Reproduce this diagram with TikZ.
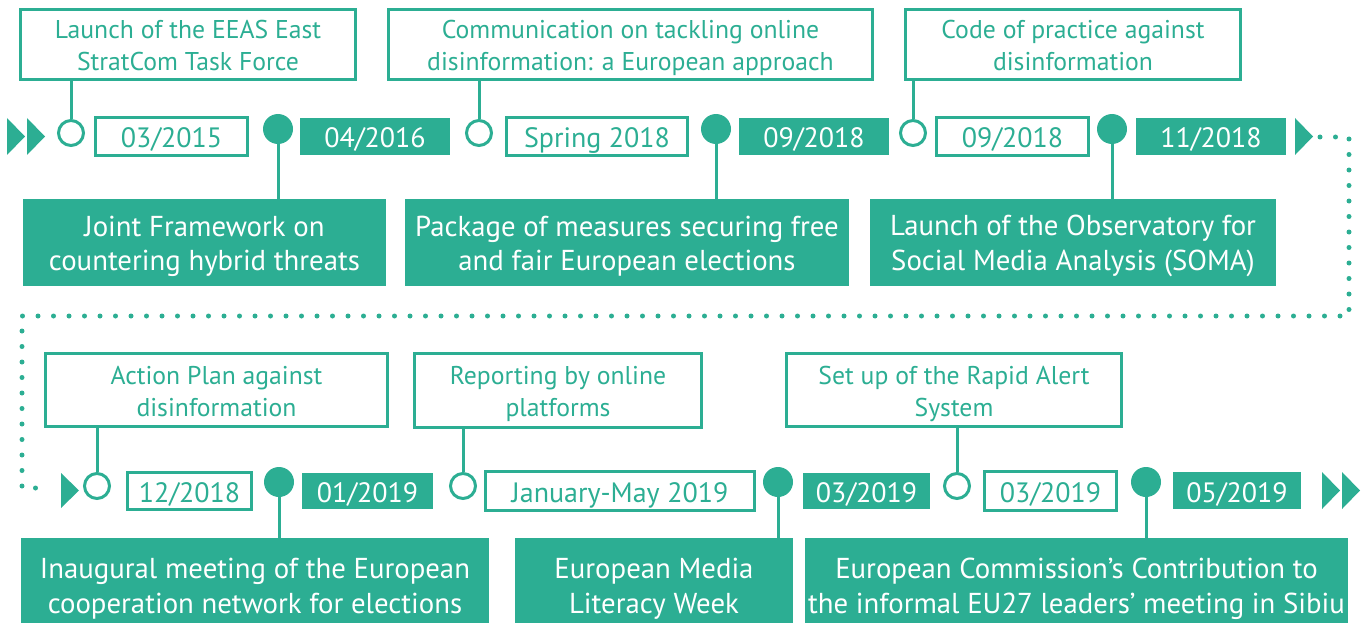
\documentclass[tikz,border=0pt]{standalone}
\usepackage{fontspec}
\setmainfont{PT Sans}
\definecolor{eu}{RGB}{44,174,147}
\newcommand\ftop{\fontsize{25.7}{32}\selectfont}
\newcommand\fdate{\fontsize{28}{32}\selectfont}
\newcommand\fbot{\fontsize{28.8}{34.7}\selectfont}
% struts: fix the height and depth of every text line
\newcommand\ts{\rule[-5pt]{0pt}{31pt}}
\newcommand\bs{\rule[-6.3pt]{0pt}{34.3pt}}
\begin{document}
\begin{tikzpicture}[x=1pt,y=-1pt,
  tbox/.style={draw=eu,line width=3pt,text=eu,align=center,inner sep=0pt,font=\ftop},
  dbox/.style={draw=eu,line width=3pt,text=eu,inner sep=0pt,font=\fdate,text height=23pt,text depth=0pt},
  fdbox/.style={fill=eu,text=white,inner sep=0pt,font=\fdate,text height=23pt,text depth=0pt},
  bbox/.style={fill=eu,text=white,align=center,inner sep=0pt,font=\fbot},
  odot/.style={circle,draw=eu,line width=3pt,fill=white,minimum size=25pt,inner sep=0pt},
  fdot/.style={circle,fill=eu,minimum size=30pt,inner sep=0pt},
  link/.style={draw=eu,line width=3pt},
  dots/.style={draw=eu,line width=5pt,line cap=round,dash pattern=on 0pt off 15.5pt}]
\clip (0,0) rectangle (1368,623);
% ---------- row 1 ----------
\node[tbox,minimum width=335pt,minimum height=70pt] (t1) at (188,44.5) {\ts Launch of the EEAS East\\\ts StratCom Task Force};
\node[tbox,minimum width=484pt,minimum height=70pt] (t2) at (630.5,44.5) {\ts Communication on tackling online\\\ts disinformation: a European approach};
\node[tbox,minimum width=335pt,minimum height=70pt] (t3) at (1073,44.5) {\ts Code of practice against\\\ts disinformation};

\node[odot] (o1) at (71,133) {};
\node[odot] (o2) at (479,133) {};
\node[odot] (o3) at (913,133) {};

\node[dbox,minimum width=152pt,minimum height=38pt] (d1) at (171.5,136.5) {03/2015};
\node[dbox,minimum width=181pt,minimum height=38pt] (d2) at (597,136.5) {Spring 2018};
\node[dbox,minimum width=152pt,minimum height=38pt] (d3) at (1012.5,136.5) {09/2018};

\node[fdot] (c1) at (278,129) {};
\node[fdot] (c2) at (716,129) {};
\node[fdot] (c3) at (1112,129) {};

\node[fdbox,minimum width=150pt,minimum height=37pt] (f1) at (375,136.5) {04/2016};
\node[fdbox,minimum width=150pt,minimum height=37pt] (f2) at (814,136.5) {09/2018};
\node[fdbox,minimum width=150pt,minimum height=37pt] (f3) at (1211,136.5) {11/2018};

\node[bbox,minimum width=363pt,minimum height=87pt] (b1) at (204.5,242.5) {\bs Joint Framework on\\\bs countering hybrid threats};
\node[bbox,minimum width=444pt,minimum height=87pt] (b2) at (627,242.5) {\bs Package of measures securing free\\\bs and fair European elections};
\node[bbox,minimum width=406pt,minimum height=87pt] (b3) at (1073,242.5) {\bs Launch of the Observatory for\\\bs Social Media Analysis (SOMA)};

\draw[link] (t1.south -| o1) -- (o1.north);
\draw[link] (t2.south -| o2) -- (o2.north);
\draw[link] (t3.south -| o3) -- (o3.north);
\draw[link] (c1.south) -- (b1.north -| c1);
\draw[link] (c2.south) -- (b2.north -| c2);
\draw[link] (c3.south) -- (b3.north -| c3);

\fill[eu] (7,118) -- (25,136.5) -- (7,155) -- cycle;
\fill[eu] (27,118) -- (45,136.5) -- (27,155) -- cycle;
\fill[eu] (1295,118) -- (1313,136.5) -- (1295,155) -- cycle;

% ---------- dotted link ----------
\coordinate (dA) at (1320,137);
\coordinate (dB) at (1349,316);
\coordinate (dC) at (22,316);
\coordinate (dD) at (45,488);
\draw[dots] (dA) -| (dB) -- (dC) |- (dD);

% ---------- row 2 ----------
\node[tbox,minimum width=342pt,minimum height=73pt] (t4) at (216.5,390) {\ts Action Plan against\\\ts disinformation};
\node[tbox,minimum width=287pt,minimum height=74pt] (t5) at (558,390) {\ts Reporting by online\\\ts platforms};
\node[tbox,minimum width=335pt,minimum height=73pt] (t6) at (954,390) {\ts Set up of the Rapid Alert\\\ts System};

\node[odot] (o4) at (97,486) {};
\node[odot] (o5) at (463,486) {};
\node[odot] (o6) at (957,486) {};

\node[dbox,minimum width=124pt,minimum height=37pt] (d4) at (189.5,491) {12/2018};
\node[dbox,minimum width=269pt,minimum height=39pt] (d5) at (620,491) {January-May 2019};
\node[dbox,minimum width=132pt,minimum height=39pt] (d6) at (1050.5,491) {03/2019};

\node[fdot] (c4) at (279,482) {};
\node[fdot] (c5) at (778,482) {};
\node[fdot] (c6) at (1146,482) {};

\node[fdbox,minimum width=131pt,minimum height=36pt] (f4) at (367.5,491) {01/2019};
\node[fdbox,minimum width=127pt,minimum height=36pt] (f5) at (866.5,491) {03/2019};
\node[fdbox,minimum width=128pt,minimum height=37pt] (f6) at (1237,490.5) {05/2019};

\node[bbox,minimum width=468pt,minimum height=94pt] (b4) at (255,585) {\bs Inaugural meeting of the European\\\bs cooperation network for elections};
\node[bbox,minimum width=278pt,minimum height=94pt] (b5) at (654,585) {\bs European Media\\\bs Literacy Week};
\node[bbox,minimum width=543pt,minimum height=94pt] (b6) at (1076.5,585) {\bs European Commission’s Contribution to\\\bs the informal EU27 leaders’ meeting in Sibiu};

\draw[link] (t4.south -| o4) -- (o4.north);
\draw[link] (t5.south -| o5) -- (o5.north);
\draw[link] (t6.south -| o6) -- (o6.north);
\draw[link] (c4.south) -- (b4.north -| c4);
\draw[link] (c5.south) -- (b5.north -| c5);
\draw[link] (c6.south) -- (b6.north -| c6);

\fill[eu] (61,473) -- (79,490.5) -- (61,508) -- cycle;
\fill[eu] (1322,472) -- (1340,490.5) -- (1322,509) -- cycle;
\fill[eu] (1342,472) -- (1360,490.5) -- (1342,509) -- cycle;
\end{tikzpicture}
\end{document}
